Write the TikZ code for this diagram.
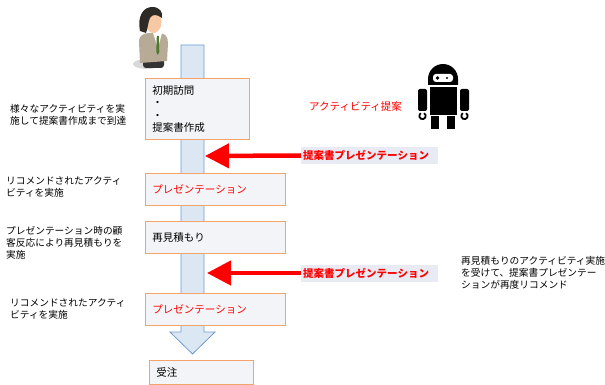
\documentclass[tikz,border=0pt]{standalone}
\usepackage{fontspec}
\setmainfont{Noto Sans CJK JP}
\usetikzlibrary{arrows.meta,positioning,calc}

\definecolor{boxline}{HTML}{F4A46A}
\definecolor{boxfill}{HTML}{F3F4F8}
\definecolor{flowfill}{HTML}{DCE7F4}
\definecolor{flowline}{HTML}{6F9BD0}
\definecolor{tagfill}{HTML}{E8EAF4}
\definecolor{suit}{HTML}{B7AB98}
\definecolor{skin}{HTML}{F6C9A4}
\definecolor{hair}{HTML}{2E2A26}
\definecolor{tie}{HTML}{4E7A2E}

\begin{document}
\begin{tikzpicture}[x=1pt, y=-1pt,
    stage/.style={draw=boxline, line width=0.9pt, fill=boxfill, anchor=north west,
      inner xsep=7pt, align=left, font=\fontsize{10.5}{12.3}\selectfont},
    note/.style={anchor=north west, inner sep=0pt, align=left,
      font=\fontsize{9.7}{12.3}\selectfont},
    tag/.style={fill=tagfill, text=red, anchor=west, inner xsep=2pt,
      text width=133pt, minimum height=17pt, font=\fontsize{10.5}{12}\selectfont\bfseries},
    push/.style={draw=red, line width=4.5pt, -{Triangle[length=24pt, width=24pt]}}]

  \useasboundingbox (0,0) rectangle (605,385);

  % flow arrow
  \draw [flowline, fill=flowfill, line width=0.8pt]
    (181,45) -- (204,45) -- (204,332) -- (215,332) -- (192.5,354)
    -- (170,332) -- (181,332) -- cycle;

  \coordinate (hit1) at (205,156);
  \coordinate (hit2) at (207,273);

  \node [stage, text width=90pt, minimum height=61pt] (visit) at (145,78)
    {初期訪問\\・\\・\\提案書作成};
  \node [stage, text width=126pt, minimum height=32pt, text=red] (pres1) at (145,173)
    {プレゼンテーション};
  \node [stage, text width=126pt, minimum height=32pt] (quote) at (145,221)
    {再見積もり};
  \node [stage, text width=126pt, minimum height=32pt, text=red] (pres2) at (145,293)
    {プレゼンテーション};
  \node [stage, text width=90pt, minimum height=24pt] (order) at (149,360)
    {受注};

  \node [tag] (tag1) at (301,155.5) {提案書プレゼンテーション};
  \node [tag] (tag2) at (301,273) {提案書プレゼンテーション};

  \draw [push] (tag1.west) -- (hit1);
  \draw [push] (tag2.west) -- (hit2);

  \node [note] (n1) at (10,104) {様々なアクティビティを実\\施して提案書作成まで到達};
  \node [note] (n2) at (6,176) {リコメンドされたアクティ\\ビティを実施};
  \node [note] (n3) at (6,226) {プレゼンテーション時の顧\\客反応により再見積もりを\\実施};
  \node [note] (n4) at (10,298) {リコメンドされたアクティ\\ビティを実施};
  \node [note] (n5) at (461,256)
    {再見積もりのアクティビティ実施\\を受けて、提案書プレゼンテー\\ションが再度リコメンド};

  \node [anchor=west, inner sep=0pt, text=red, font=\fontsize{10.5}{12}\selectfont]
    (ai) at (309,107) {アクティビティ提案};

  % salesman
  \fill [black!15] (147,64) ellipse (14 and 5);
  \fill [black!80, rounded corners=3pt] (143,52) rectangle (164,68);
  \fill [suit] (140,63) -- (139,42) .. controls (139,35) and (144,33) .. (150,33)
    -- (158,33) .. controls (165,33) and (168,36) .. (168,43) -- (167,61) -- cycle;
  \fill [white] (153,33) -- (162,33) -- (158,48) -- cycle;
  \fill [tie] (156.8,36) -- (158.8,36) -- (159.3,52) -- (157.8,55) -- (156.3,52) -- cycle;
  \fill [skin] (153.5,22) ellipse (8 and 11);
  \fill [hair] (140,31) .. controls (137,15) and (144,7) .. (152,7)
    .. controls (160,7) and (163,12) .. (162,18)
    .. controls (157,14) and (152,14) .. (150,18)
    .. controls (148,22) and (148,28) .. (146,33) -- cycle;

  % robot
  \fill (428,85) -- (428,79) arc [start angle=180, end angle=360, radius=15] -- (458,85) -- cycle;
  \fill [white, rounded corners=3pt] (433,74) rectangle (453,82);
  \fill (437.5,78) circle (1.8);
  \fill (447,78) circle (1.1);
  \fill (430,87) rectangle (457,115);
  \fill [rounded corners=2pt] (418,89) rectangle (427,111);
  \fill [rounded corners=2pt] (460,89) rectangle (469,111);
  \draw [line width=1.8pt] (424.1,113.2) arc [start angle=-60, end angle=240, radius=3.2];
  \draw [line width=1.8pt] (466.1,113.2) arc [start angle=-60, end angle=240, radius=3.2];
  \fill (431,116) rectangle (439,129);
  \fill (447,116) rectangle (455,129);

\end{tikzpicture}
\end{document}
